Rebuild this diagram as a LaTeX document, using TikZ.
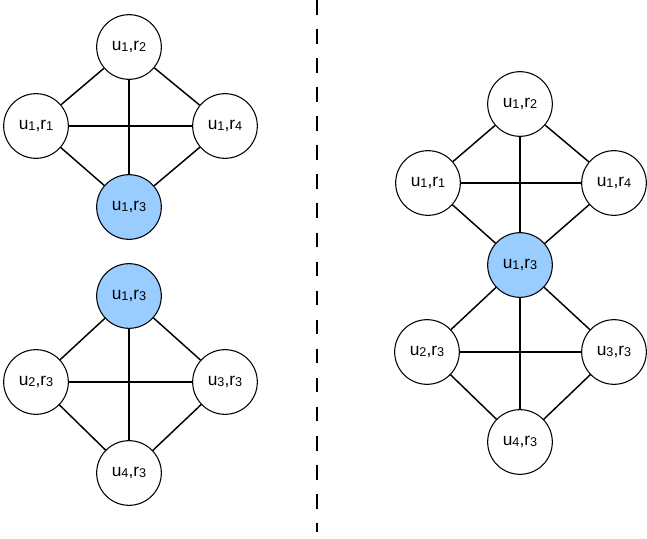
\documentclass[tikz,border=0pt]{standalone}
\usepackage{fontspec}
\setmainfont{Liberation Sans}
\newcommand{\lowix}[1]{\raisebox{-0.6pt}{\fontsize{9.5}{11}\selectfont #1}}
\newcommand{\ur}[2]{u\lowix{#1},r\lowix{#2}}
\begin{document}
\begin{tikzpicture}[x=0.75pt,y=-0.75pt,
  vert/.style={circle,draw=black,line width=0.8pt,fill=white,inner sep=0pt,
    minimum size=48.5pt,font=\fontsize{13}{15}\selectfont},
  hot/.style={vert,fill=hotblue},
  link/.style={draw=black,line width=1.1pt}]
\definecolor{hotblue}{HTML}{99CCFF}
\useasboundingbox (0,0) rectangle (647,539);

% separator
\coordinate (sepA) at (317,0);
\coordinate (sepB) at (317,532);
\draw[line width=1.1pt,dash pattern=on 10.9pt off 10.9pt] (sepA) -- (sepB);

% upper-left clique
\node[vert] (a2) at (129,47) {\ur{1}{2}};
\node[vert] (a1) at (36,126) {\ur{1}{1}};
\node[vert] (a4) at (225,126) {\ur{1}{4}};
\node[hot]  (a3) at (129,207) {\ur{1}{3}};

% lower-left clique
\node[hot]  (b1) at (129,296) {\ur{1}{3}};
\node[vert] (b2) at (36,382) {\ur{2}{3}};
\node[vert] (b3) at (225,382) {\ur{3}{3}};
\node[vert] (b4) at (129,473) {\ur{4}{3}};

% merged cliques on the right
\node[vert] (c2) at (520,104) {\ur{1}{2}};
\node[vert] (c1) at (428,183) {\ur{1}{1}};
\node[vert] (c4) at (614,183) {\ur{1}{4}};
\node[hot]  (c3) at (520,265) {\ur{1}{3}};
\node[vert] (d2) at (427,352) {\ur{2}{3}};
\node[vert] (d3) at (614,352) {\ur{3}{3}};
\node[vert] (d4) at (520,442) {\ur{4}{3}};

\foreach \p/\q in {a2/a1,a2/a4,a2/a3,a1/a4,a1/a3,a4/a3,
                   b1/b2,b1/b3,b1/b4,b2/b3,b2/b4,b3/b4,
                   c2/c1,c2/c4,c2/c3,c1/c4,c1/c3,c4/c3,
                   c3/d2,c3/d3,c3/d4,d2/d3,d2/d4,d3/d4}
  \draw[link] (\p) -- (\q);
\end{tikzpicture}
\end{document}
